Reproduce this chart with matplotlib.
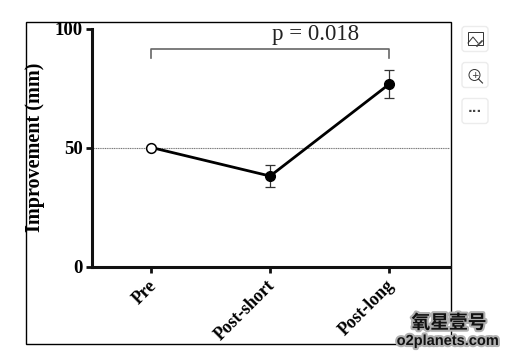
import matplotlib
matplotlib.use("Agg")
import matplotlib.pyplot as plt
import matplotlib.patheffects as pe
from matplotlib.patches import FancyBboxPatch, Rectangle, Circle
from matplotlib.transforms import ScaledTranslation

groups = ["Pre", "Post-short", "Post-long"]
values = [50, 38, 76.5]
err_low = [0, 4.4, 5.8]
err_high = [0, 4.8, 6.0]
y_ticks = [0, 50, 100]
bracket_x = [0, 0, 2, 2]
bracket_y = [87.8, 91.2, 91.2, 87.8]
p_label = "p = 0.018"

W, H = 525, 357
serif = "Liberation Serif"

fig = plt.figure(figsize=(W / 100, H / 100), dpi=100)

# overlay in pixel coordinates for the frame and the viewer buttons
bg = fig.add_axes([0, 0, 1, 1])
bg.set_xlim(0, W)
bg.set_ylim(H, 0)
bg.axis("off")
bg.add_patch(Rectangle((25.5, 21.5), 464 - 38.5, 322.5, fill=False, ec="black", lw=1))

ax = fig.add_axes([92 / W, 1 - 266.5 / H, (450 - 92) / W, 238 / H])
ax.patch.set_alpha(0)
ax.set_xlim(-0.5, 2.515)
ax.set_ylim(0, 100)

ax.axhline(50, color="#777777", lw=0.8, ls=(0, (1, 0.6)), zorder=1)
ax.plot(bracket_x, bracket_y, color="#666666", lw=1.2, clip_on=False)
ax.text(1.385, 93.2, p_label, family=serif, fontsize=16.5, color="#222222", ha="center", va="bottom")

ax.plot(groups, values, color="black", lw=2.0, zorder=3)
ax.errorbar(groups[1:], values[1:], yerr=[err_low[1:], err_high[1:]], fmt="none",
            ecolor="#333333", elinewidth=0.9, capsize=3.8, capthick=0.9, zorder=2)
ax.plot(groups[1:], values[1:], "o", color="black", ms=7, zorder=4)
ax.plot(groups[:1], values[:1], "o", mfc="white", mec="black", mew=1.1, ms=7, zorder=4)

for s in ["top", "right"]:
    ax.spines[s].set_visible(False)
for s in ["left", "bottom"]:
    ax.spines[s].set_linewidth(2.2)
    ax.spines[s].set_color("#111111")

ax.set_yticks(y_ticks)
ax.tick_params(axis="y", length=4.5, width=2, pad=2, color="#111111")
ax.tick_params(axis="x", length=4.5, width=2, pad=3, color="#111111")
for t in ax.get_yticklabels():
    t.set(family=serif, weight="bold", fontsize=13.5)
ax.set_xticks(range(3))
ax.set_xticklabels(groups, rotation=45, ha="right", rotation_mode="anchor",
                   family=serif, weight="bold", fontsize=12.8)
shift = ScaledTranslation(-3.5 / 100, 0, fig.dpi_scale_trans)
for t in ax.get_xticklabels():
    t.set_transform(t.get_transform() + shift)
ax.set_ylabel("Improvement (mm)", family=serif, weight="bold", fontsize=14.5)
ax.yaxis.set_label_coords(-0.13, 0.5)

# viewer buttons
for cy in [39, 75, 111]:
    bg.add_patch(FancyBboxPatch((463, cy - 11.5), 24, 23, boxstyle="round,pad=1,rounding_size=3",
                                fc="white", ec="#ececec", lw=1))
bg.add_patch(Rectangle((467.5, 32), 15, 12.5, fill=False, ec="#333333", lw=0.7))
bg.plot([468, 473, 478], [43, 37, 43], color="#333333", lw=0.7)
bg.plot([477, 482], [46, 41], color="#444444", lw=1.2)
bg.add_patch(Circle((474.5, 75), 5.5, fill=False, ec="#333333", lw=0.7))
bg.plot([478.5, 482.5], [79, 83], color="#333333", lw=0.8)
bg.text(474.5, 75, "+", fontsize=6.5, ha="center", va="center", color="#333333")
bg.text(475, 109, "...", fontsize=9, ha="center", va="center", color="#444444", weight="bold")

# watermark
halo = [pe.withStroke(linewidth=3, foreground="#b0b0b0")]
bg.text(449, 323, "氧星壹号", family=["Noto Sans CJK SC", "DejaVu Sans"], weight="bold", fontsize=13.5,
        ha="center", va="center", color="#111111", path_effects=halo)
bg.text(448, 341, "o2planets.com", family="Liberation Sans", weight="bold", fontsize=10.5,
        ha="center", va="center", color="#111111", path_effects=halo)

fig.savefig("out.png", dpi=100)
